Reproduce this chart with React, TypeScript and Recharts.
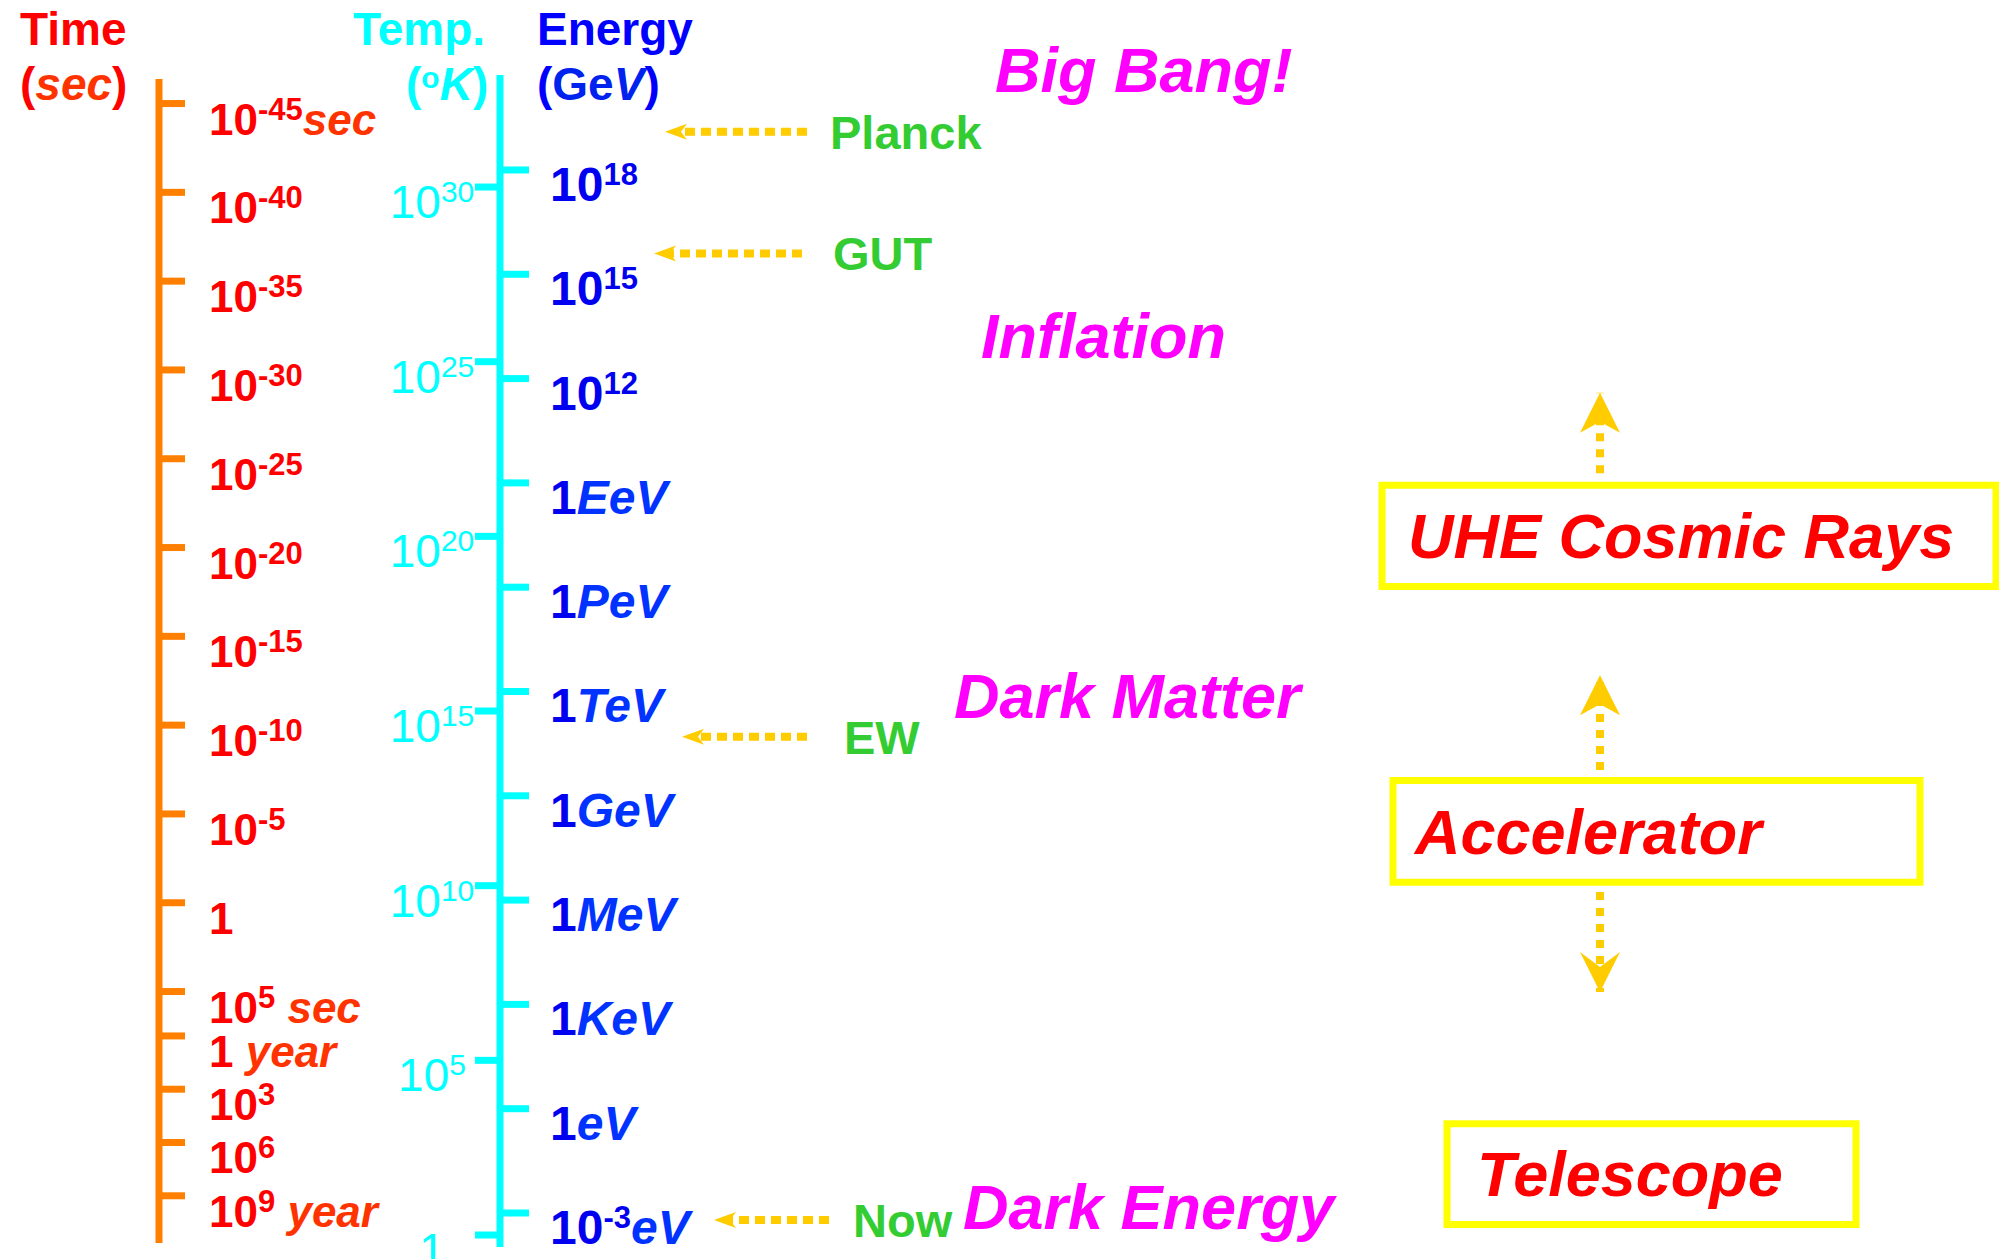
import React from "react";
import {
    ComposedChart,
    XAxis,
    YAxis,
    Scatter,
    ReferenceLine,
    ReferenceDot,
    ReferenceArea,
    Label
} from "recharts";

const W = 1999;
const H = 1259;
const FONT = '"Liberation Sans", Arial, Helvetica, sans-serif';

const ORANGE = "#FF8000";
const RED = "#FF0000";
const RED_UNIT = "#FF3300";
const CYAN = "#00FFFF";
const BLUE = "#0000F0";
const BLUE_UNIT = "#0033FF";
const GREEN = "#33CC33";
const MAGENTA = "#FF00FF";
const GOLD = "#FFCC00";
const YELLOW = "#FFFF00";

// time axis, log10(seconds)
const timeLog = [-45, -40, -35, -30, -25, -20, -15, -10, -5, 0, 5, 7.5, 10.5, 13.5, 16.5];
const timeBase = ["10", "10", "10", "10", "10", "10", "10", "10", "10", "1", "10", "1", "10", "10", "10"];
const timeExp = ["-45", "-40", "-35", "-30", "-25", "-20", "-15", "-10", "-5", "", "5", "", "3", "6", "9"];
const timeUnit = ["sec", "", "", "", "", "", "", "", "", "", " sec", " year", "", "", " year"];

// temperature axis, log10(K)
const tempLog = [30, 25, 20, 15, 10, 5, 0];
const tempBase = ["10", "10", "10", "10", "10", "10", "1"];
const tempExp = ["30", "25", "20", "15", "10", "5", ""];

// energy axis, log10(GeV)
const energyLog = [18, 15, 12, 9, 6, 3, 0, -3, -6, -9, -12];
const energyBase = ["10", "10", "10", "1", "1", "1", "1", "1", "1", "1", "10"];
const energyExp = ["18", "15", "12", "", "", "", "", "", "", "", "-3"];
const energyUnit = ["", "", "", "EeV", "PeV", "TeV", "GeV", "MeV", "KeV", "eV", "eV"];

// epochs marked with arrows, log10(GeV)
const epochNames = ["Planck", "GUT", "EW", "Now"];
const epochLog = [19.1, 15.6, 1.7, -12.2];

// eras, log10(GeV)
const eraNames = ["Big Bang!", "Inflation", "Dark Matter", "Dark Energy"];
const eraLog = [20.9, 13.25, 2.9, -11.8];

// probes, energy band log10(GeV)
const probeNames = ["UHE Cosmic Rays", "Accelerator", "Telescope"];
const probeHigh = [8.93, 0.44, -9.43];
const probeLow = [6.02, -2.49, -12.33];

// reach arrows, log10(GeV)
const reachFrom = [9.28, 0.74, -2.77];
const reachTo = [11.59, 3.47, -5.64];

// layout
const TIME_DOMAIN = [-50.83, 20.06];
const TEMP_DOMAIN = [-0.687, 35.354];
const ENERGY_DOMAIN = [-13.323, 22.889];
const TIME_SPAN = [-46.38, 19.16];
const TEMP_SPAN = [-0.34, 33.21];
const TIME_X = 159;
const AXIS_X = 500;
const EPOCH_TIP = [665, 654, 682, 714];
const EPOCH_TAIL = [807, 802, 807, 829];
const EPOCH_TEXT = [830, 833, 844, 853];
const ERA_X = [995, 981, 954, 963];
const PROBE_X = [[1382, 1996], [1393, 1920], [1447, 1856]];
const PROBE_INSET = [26, 22, 30];
const REACH_X = 1600;

const timeData = timeLog.map((v, i) => ({x: TIME_X, y: v, base: timeBase[i], exp: timeExp[i], unit: timeUnit[i]}));
const tempData = tempLog.map((v, i) => ({x: AXIS_X, y: v, base: tempBase[i], exp: tempExp[i], unit: ""}));
const energyData = energyLog.map((v, i) => ({x: AXIS_X, y: v, base: energyBase[i], exp: energyExp[i], unit: energyUnit[i]}));

const NumLabel = ({x, y, base, exp, unit, size, expSize, rise, color, unitColor, weight, anchor}: any) => (
    <text x={x} y={y} fontFamily={FONT} fontSize={size} fontWeight={weight} fill={color}
          textAnchor={anchor} style={{whiteSpace: "pre"}}>
        {base}
        {exp ? <tspan fontSize={expSize} dy={-rise}>{exp}</tspan> : null}
        {unit ? <tspan fontStyle="italic" fill={unitColor} dy={exp ? rise : 0}>{unit}</tspan> : null}
    </text>
);

const timeTick = (p: any) => (
    <g>
        <line x1={p.cx} x2={p.cx + 26} y1={p.cy} y2={p.cy} stroke={ORANGE} strokeWidth={7}/>
        <NumLabel x={p.cx + 50} y={p.cy + 31} base={p.payload.base} exp={p.payload.exp} unit={p.payload.unit}
                  size={44} expSize={31} rise={15} color={RED} unitColor={RED_UNIT} weight="bold" anchor="start"/>
    </g>
);

const tempTick = (p: any) => (
    <g>
        <line x1={p.cx - 25} x2={p.cx} y1={p.cy} y2={p.cy} stroke={CYAN} strokeWidth={7}/>
        <NumLabel x={p.cx - 68} y={p.cy + 31} base={p.payload.base} exp={p.payload.exp}
                  size={46} expSize={30} rise={16} color={CYAN} weight="normal" anchor="middle"/>
    </g>
);

const energyTick = (p: any) => (
    <g>
        <line x1={p.cx} x2={p.cx + 29} y1={p.cy} y2={p.cy} stroke={CYAN} strokeWidth={7}/>
        <NumLabel x={p.cx + 50} y={p.cy + 31} base={p.payload.base} exp={p.payload.exp} unit={p.payload.unit}
                  size={48} expSize={31} rise={16} color={BLUE} unitColor={BLUE_UNIT} weight="bold" anchor="start"/>
    </g>
);

const leftHead = (p: any) => (
    <polygon points={`${p.cx},${p.cy} ${p.cx + 22},${p.cy - 8} ${p.cx + 16},${p.cy} ${p.cx + 22},${p.cy + 8}`} fill={GOLD}/>
);

const upHead = (p: any) => (
    <polygon points={`${p.cx},${p.cy} ${p.cx + 20},${p.cy + 40} ${p.cx},${p.cy + 29} ${p.cx - 20},${p.cy + 40}`} fill={GOLD}/>
);

const downHead = (p: any) => (
    <polygon points={`${p.cx},${p.cy} ${p.cx + 20},${p.cy - 40} ${p.cx},${p.cy - 25} ${p.cx - 20},${p.cy - 40}`} fill={GOLD}/>
);

const textShape = (text: string, size: number, color: string, italic: boolean, shift: number) => (p: any) => (
    <text x={p.cx} y={p.cy + shift} fontFamily={FONT} fontSize={size} fontWeight="bold"
          fontStyle={italic ? "italic" : "normal"} fill={color}>{text}</text>
);

const App = () => {
    return (
        <div style={{position: "absolute", left: 0, top: 0, width: W, height: H, background: "#fff"}}>
            <ComposedChart width={W} height={H} margin={{top: 0, right: 0, bottom: 0, left: 0}}>
                <XAxis type="number" dataKey="x" domain={[0, W]} hide allowDataOverflow/>
                <YAxis yAxisId="time" type="number" dataKey="y" domain={TIME_DOMAIN} reversed hide allowDataOverflow/>
                <YAxis yAxisId="temp" type="number" dataKey="y" domain={TEMP_DOMAIN} hide allowDataOverflow/>
                <YAxis yAxisId="energy" type="number" dataKey="y" domain={ENERGY_DOMAIN} hide allowDataOverflow/>

                {/* probe boxes */}
                {probeNames.map((name, i) => (
                    <ReferenceArea key={name} yAxisId="energy" x1={PROBE_X[i][0]} x2={PROBE_X[i][1]}
                                   y1={probeLow[i]} y2={probeHigh[i]} fill="#fff" fillOpacity={1}
                                   stroke={YELLOW} strokeWidth={7} ifOverflow="visible">
                        <Label value={name} position="insideLeft" offset={PROBE_INSET[i]} fill={RED}
                               fontSize={63} fontWeight="bold" fontStyle="italic" fontFamily={FONT}/>
                    </ReferenceArea>
                ))}

                {/* axis lines */}
                <ReferenceLine yAxisId="time" ifOverflow="visible" stroke={ORANGE} strokeWidth={7}
                               segment={[{x: TIME_X, y: TIME_SPAN[0]}, {x: TIME_X, y: TIME_SPAN[1]}]}/>
                <ReferenceLine yAxisId="temp" ifOverflow="visible" stroke={CYAN} strokeWidth={7}
                               segment={[{x: AXIS_X, y: TEMP_SPAN[0]}, {x: AXIS_X, y: TEMP_SPAN[1]}]}/>

                <Scatter yAxisId="time" data={timeData} shape={timeTick} isAnimationActive={false}/>
                <Scatter yAxisId="temp" data={tempData} shape={tempTick} isAnimationActive={false}/>
                <Scatter yAxisId="energy" data={energyData} shape={energyTick} isAnimationActive={false}/>

                {/* epoch arrows */}
                {epochNames.map((name, i) => (
                    <ReferenceLine key={`l-${name}`} yAxisId="energy" ifOverflow="visible" stroke={GOLD}
                                   strokeWidth={8} strokeDasharray="10 6"
                                   segment={[{x: EPOCH_TAIL[i], y: epochLog[i]}, {x: EPOCH_TIP[i] + 14, y: epochLog[i]}]}/>
                ))}
                {epochNames.map((name, i) => (
                    <ReferenceDot key={`h-${name}`} yAxisId="energy" x={EPOCH_TIP[i]} y={epochLog[i]} r={1}
                                  ifOverflow="visible" shape={leftHead}/>
                ))}
                {epochNames.map((name, i) => (
                    <ReferenceDot key={`t-${name}`} yAxisId="energy" x={EPOCH_TEXT[i]} y={epochLog[i]} r={1}
                                  ifOverflow="visible" shape={textShape(name, 47, GREEN, false, 17)}/>
                ))}

                {/* eras */}
                {eraNames.map((name, i) => (
                    <ReferenceDot key={name} yAxisId="energy" x={ERA_X[i]} y={eraLog[i]} r={1}
                                  ifOverflow="visible" shape={textShape(name, 63, MAGENTA, true, 23)}/>
                ))}

                {/* reach arrows */}
                {reachFrom.map((v, i) => (
                    <ReferenceLine key={`r-${i}`} yAxisId="energy" ifOverflow="visible" stroke={GOLD}
                                   strokeWidth={8} strokeDasharray="8 8"
                                   segment={[{x: REACH_X, y: v}, {x: REACH_X, y: reachTo[i]}]}/>
                ))}
                {reachTo.map((v, i) => (
                    <ReferenceDot key={`rh-${i}`} yAxisId="energy" x={REACH_X} y={v} r={1} ifOverflow="visible"
                                  shape={v > reachFrom[i] ? upHead : downHead}/>
                ))}

                {/* axis titles */}
                <text x={20} y={45} fontFamily={FONT} fontSize={46} fontWeight="bold" fill={RED}>Time</text>
                <text x={20} y={100} fontFamily={FONT} fontSize={46} fontWeight="bold" fill={RED}>
                    (<tspan fontStyle="italic" fill={RED_UNIT}>sec</tspan>)
                </text>
                <text x={353} y={45} fontFamily={FONT} fontSize={46} fontWeight="bold" fill={CYAN}>Temp.</text>
                <text x={406} y={100} fontFamily={FONT} fontSize={46} fontWeight="bold" fill={CYAN}>
                    (<tspan fontSize={30} dy={-12}>o</tspan><tspan dy={12} fontStyle="italic">K</tspan>)
                </text>
                <text x={537} y={45} fontFamily={FONT} fontSize={46} fontWeight="bold" fill="#0000FF">Energy</text>
                <text x={537} y={100} fontFamily={FONT} fontSize={46} fontWeight="bold" fill="#0000FF">
                    (<tspan fill="#0022EE">Ge</tspan><tspan fontStyle="italic" fill="#0022EE">V</tspan>)
                </text>
            </ComposedChart>
        </div>
    );
};

export default App;
